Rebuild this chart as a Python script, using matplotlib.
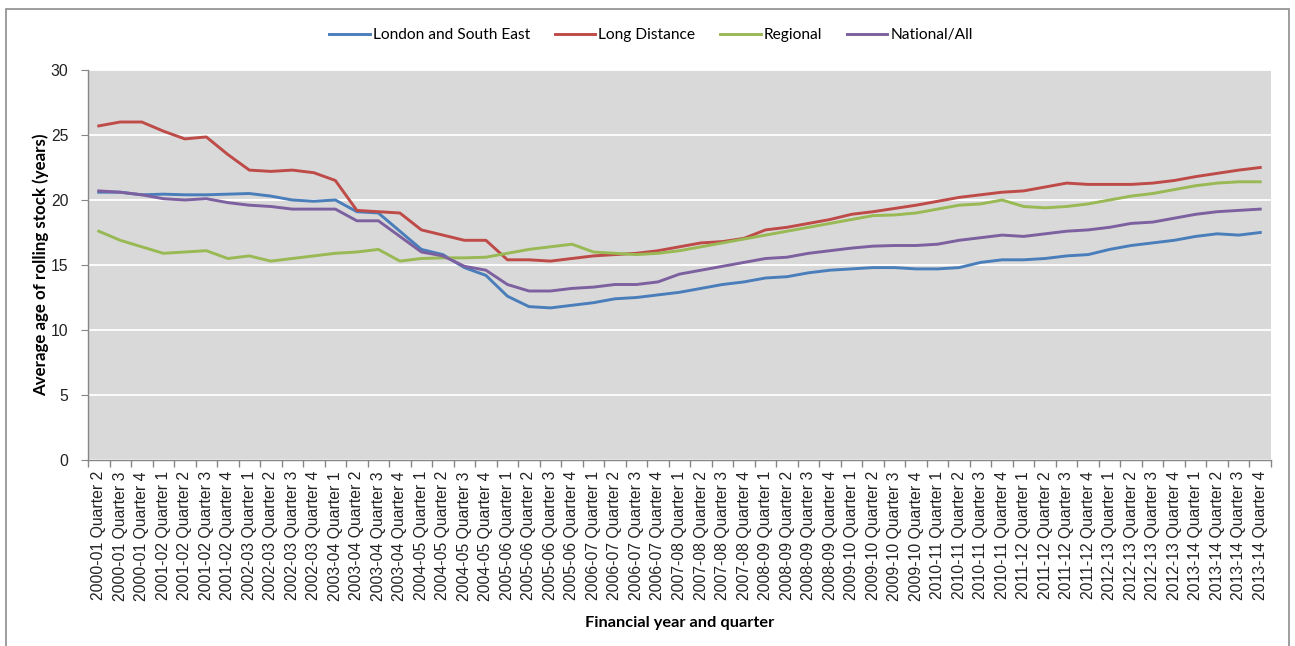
import matplotlib
matplotlib.use("Agg")
import matplotlib.pyplot as plt
from matplotlib.patches import Rectangle
from matplotlib.ticker import FixedLocator, NullFormatter

years = ["2000-01"] * 3 + [f"{y}-{str(y + 1)[-2:]}" for y in range(2001, 2014) for _ in range(4)]
quarters = [2, 3, 4] + [q for _ in range(2001, 2014) for q in (1, 2, 3, 4)]
categories = [f"{y} Quarter {q}" for y, q in zip(years, quarters)]

london = [20.6, 20.6, 20.4, 20.45, 20.4, 20.4, 20.45, 20.5, 20.3, 20.0, 19.9, 20.0, 19.1, 19.0, 17.6,
          16.2, 15.8, 14.8, 14.2, 12.6, 11.8, 11.7, 11.9, 12.1, 12.4, 12.5, 12.7, 12.9, 13.2, 13.5,
          13.7, 14.0, 14.1, 14.4, 14.6, 14.7, 14.8, 14.8, 14.7, 14.7, 14.8, 15.2, 15.4, 15.4, 15.5,
          15.7, 15.8, 16.2, 16.5, 16.7, 16.9, 17.2, 17.4, 17.3, 17.5]
long_distance = [25.7, 26.0, 26.0, 25.3, 24.7, 24.85, 23.5, 22.3, 22.2, 22.3, 22.1, 21.5, 19.2, 19.1, 19.0,
                 17.7, 17.3, 16.9, 16.9, 15.4, 15.4, 15.3, 15.5, 15.7, 15.8, 15.9, 16.1, 16.4, 16.7, 16.8,
                 17.05, 17.7, 17.9, 18.2, 18.5, 18.9, 19.1, 19.35, 19.6, 19.9, 20.2, 20.4, 20.6, 20.7, 21.0,
                 21.3, 21.2, 21.2, 21.2, 21.3, 21.5, 21.8, 22.05, 22.3, 22.5]
regional = [17.6, 16.9, 16.4, 15.9, 16.0, 16.1, 15.5, 15.7, 15.3, 15.5, 15.7, 15.9, 16.0, 16.2, 15.3,
            15.5, 15.55, 15.55, 15.6, 15.9, 16.2, 16.4, 16.6, 16.0, 15.9, 15.8, 15.9, 16.1, 16.4, 16.7,
            17.0, 17.3, 17.6, 17.9, 18.2, 18.5, 18.8, 18.85, 19.0, 19.3, 19.6, 19.7, 20.0, 19.5, 19.4,
            19.5, 19.7, 20.0, 20.3, 20.5, 20.8, 21.1, 21.3, 21.4, 21.4]
national = [20.7, 20.6, 20.4, 20.1, 20.0, 20.1, 19.8, 19.6, 19.5, 19.3, 19.3, 19.3, 18.4, 18.4, 17.2,
            16.0, 15.7, 14.9, 14.6, 13.5, 13.0, 13.0, 13.2, 13.3, 13.5, 13.5, 13.7, 14.3, 14.6, 14.9,
            15.2, 15.5, 15.6, 15.9, 16.1, 16.3, 16.45, 16.5, 16.5, 16.6, 16.9, 17.1, 17.3, 17.2, 17.4,
            17.6, 17.7, 17.9, 18.2, 18.3, 18.6, 18.9, 19.1, 19.2, 19.3]

series_names = ["London and South East", "Long Distance", "Regional", "National/All"]
series_values = [london, long_distance, regional, national]
series_colors = ["#4A7EBB", "#BE4B48", "#98B954", "#7D60A0"]
y_ticks = [0, 5, 10, 15, 20, 25, 30]

plt.rcParams["font.family"] = ["Liberation Sans", "DejaVu Sans"]

fig = plt.figure(figsize=(12.95, 6.46), dpi=100)
ax = fig.add_axes([88 / 1295, 1 - 460 / 646, (1271 - 88) / 1295, 390 / 646])

# outer chart frame
fig.patches.append(Rectangle((6 / 1295, -0.05), (1289 - 6) / 1295, 1 - 9 / 646 + 0.05,
                             transform=fig.transFigure, fill=False, edgecolor="#8c8c8c",
                             linewidth=1.2))

ax.set_facecolor("#D9D9D9")
x = list(range(len(categories)))
for name, vals, col in zip(series_names, series_values, series_colors):
    ax.plot(x, vals, color=col, linewidth=2.1, label=name, solid_joinstyle="round")

ax.set_xlim(-0.5, len(categories) - 0.5)
ax.set_ylim(0, 30)
ax.set_yticks(y_ticks)
ax.yaxis.grid(True, color="white", linewidth=1.3)
ax.set_axisbelow(True)

ax.set_xticks(x)
ax.set_xticklabels(categories, rotation=90, fontsize=11.3, color="#222222")
ax.tick_params(axis="x", which="major", length=0, pad=8)
ax.xaxis.set_minor_locator(FixedLocator([i - 0.5 for i in range(len(categories) + 1)]))
ax.xaxis.set_minor_formatter(NullFormatter())
ax.tick_params(axis="x", which="minor", length=5, color="#868686", width=1)
ax.tick_params(axis="y", length=5, color="#868686", labelsize=11.3, labelcolor="#222222", pad=9)

for side in ["top", "right"]:
    ax.spines[side].set_visible(False)
for side in ["left", "bottom"]:
    ax.spines[side].set_color("#868686")
    ax.spines[side].set_linewidth(1)

ax.set_xlabel("Financial year and quarter", fontsize=11.8, fontweight="bold",
              family=["Lato", "DejaVu Sans"], labelpad=11)
ax.set_ylabel("Average age of rolling stock (years)", fontsize=12.2, fontweight="bold",
              family=["Lato", "DejaVu Sans"], labelpad=1)

leg = fig.legend(loc="center", bbox_to_anchor=(651 / 1295, 1 - 35 / 646), ncol=4, frameon=False,
                 prop={"family": ["Lato", "DejaVu Sans"], "size": 11.2},
                 handlelength=2.6, handletextpad=0.2, columnspacing=1.6)

fig.savefig("out.png", dpi=100, facecolor="white")
